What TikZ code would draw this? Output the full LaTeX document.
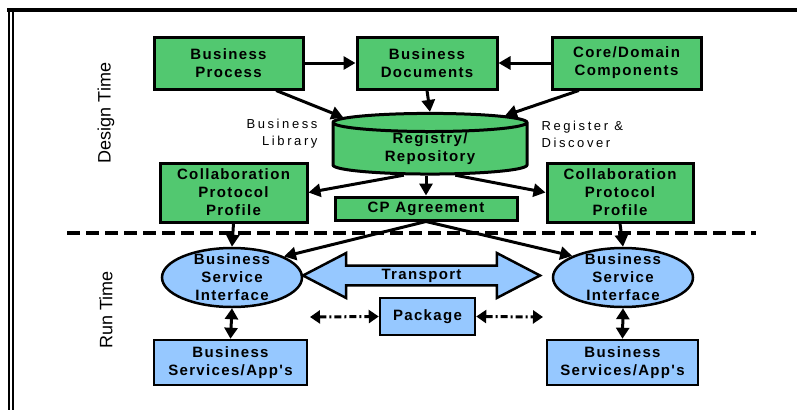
\documentclass[tikz,border=0pt]{standalone}
\usepackage{fontspec}
\setmainfont{Liberation Sans}
\newfontfamily\boxfont{Liberation Sans}[LetterSpace=9]
\newfontfamily\lblfont{Liberation Sans}[LetterSpace=20]
\usetikzlibrary{shapes.geometric,shapes.arrows,arrows.meta}
\definecolor{dtgreen}{RGB}{82,200,112}
\definecolor{rtblue}{RGB}{150,200,255}
\newcommand\boxtext{\boxfont\bfseries\fontsize{15}{18}\selectfont}
\newcommand\lbltext{\lblfont\fontsize{13}{17}\selectfont}
\tikzset{
  dtbox/.style={draw, line width=3pt, fill=dtgreen, inner sep=0pt, align=center, font=\boxtext},
  rtbox/.style={draw, line width=2.5pt, fill=rtblue, inner sep=0pt, align=center, font=\boxtext},
  bsi/.style={ellipse, draw, line width=2.5pt, fill=rtblue, inner sep=0pt, minimum width=140pt, minimum height=59pt},
  bsitext/.style={align=center, inner sep=0pt, font=\boxtext},
  sidelbl/.style={rotate=90, font=\fontsize{18}{22}\selectfont},
  conn/.style={line width=3pt, -{Triangle[length=12pt,width=13pt]}},
  bothconn/.style={line width=3pt, {Triangle[length=11pt,width=13pt]}-{Triangle[length=11pt,width=13pt]}},
  dashdot/.style={line width=3pt, dash pattern=on 7pt off 3pt on 2pt off 3pt, {Triangle[length=10pt,width=13pt]}-{Triangle[length=10pt,width=13pt]}}
}
\begin{document}
\begin{tikzpicture}[x=1pt,y=-1pt]
  \useasboundingbox (0,0) rectangle (797,410);
  \draw[line width=2pt] (9,8) -- (9,410);
  \draw[line width=1.5pt] (13,12) -- (13,410);
  \draw[line width=3.5pt] (7,10) -- (797,10);

  \node[sidelbl] (dt) at (106,113) {Design Time};
  \node[sidelbl] (rt) at (106,310) {Run Time};

  \node[dtbox, minimum width=149pt, minimum height=52pt] (bp) at (228.5,63) {Business\\Process};
  \node[dtbox, minimum width=140pt, minimum height=52pt] (bd) at (427,63) {Business\\Documents};
  \node[dtbox, minimum width=149pt, minimum height=52pt] (core) at (626.5,63) {Core/Domain\\Components};
  \node[cylinder, shape border rotate=90, shape aspect=0.2, draw, line width=3pt, fill=dtgreen, inner sep=0pt,
        minimum width=194pt, minimum height=59pt, align=center, font=\boxtext] (reg) at (430,149) {Registry/\\Repository};
  \node[anchor=east, align=right, font=\lbltext] (blib) at (321,134) {Business\\Library};
  \node[anchor=west, align=left, font=\lbltext] (regd) at (538,134) {Register \&\\Discover};
  \node[dtbox, minimum width=147pt, minimum height=59pt] (colL) at (233.5,192.5) {Collaboration\\Protocol\\Profile};
  \node[dtbox, minimum width=146pt, minimum height=59pt] (colR) at (620,192.5) {Collaboration\\Protocol\\Profile};
  \node[dtbox, minimum width=182pt, minimum height=23pt] (cpa) at (426,208.5) {CP Agreement};

  \draw[line width=4pt, dash pattern=on 13pt off 6pt] (67,233) -- (756,233);

  \node[bsi] (bsiL) at (232,277.5) {};
  \node[bsitext] (bsiLt) at (bsiL) {Business\\Service\\Interface};
  \node[bsi] (bsiR) at (623,277.5) {};
  \node[bsitext] (bsiRt) at (bsiR) {Business\\Service\\Interface};
  \node[double arrow, draw, line width=2.5pt, fill=rtblue, inner sep=0pt, double arrow tip angle=55,
        double arrow head extend=10pt, minimum width=45pt, minimum height=237pt, font=\boxtext] (tr) at (421.5,275.5) {Transport};
  \node[rtbox, minimum width=95pt, minimum height=37pt] (pkg) at (427.5,316.5) {Package};
  \coordinate (pl) at (310,317);
  \coordinate (pr) at (543,317);
  \node[rtbox, minimum width=153pt, minimum height=45pt] (bsL) at (230.5,362.5) {Business\\Services/App's};
  \node[rtbox, minimum width=151pt, minimum height=45pt] (bsR) at (622.5,362.5) {Business\\Services/App's};

  \draw[conn] (bp.east) -- (bd.west);
  \draw[conn] (core.west) -- (bd.east);
  \draw[conn] (bp.-30) -- (reg.160);
  \draw[conn] (bd.south) -- (reg.90);
  \draw[conn] (core.210) -- (reg.24);
  \draw[conn] (reg.225) -- (colL.east);
  \draw[conn] (cpa.north |- reg.270) -- (cpa.north);
  \draw[conn] (reg.314) -- (colR.west);
  \draw[conn] (colL.south) -- (bsiL.north);
  \draw[conn] (colR.south) -- (bsiR.north);
  \draw[conn] (cpa.south) -- (bsiL.22);
  \draw[conn] (cpa.south) -- (bsiR.157);
  \draw[bothconn] (bsiL.south) -- (bsL.north);
  \draw[bothconn] (bsiR.south) -- (bsR.north);
  \draw[dashdot] (pl) -- (pkg.west);
  \draw[dashdot] (pkg.east) -- (pr);
\end{tikzpicture}
\end{document}
